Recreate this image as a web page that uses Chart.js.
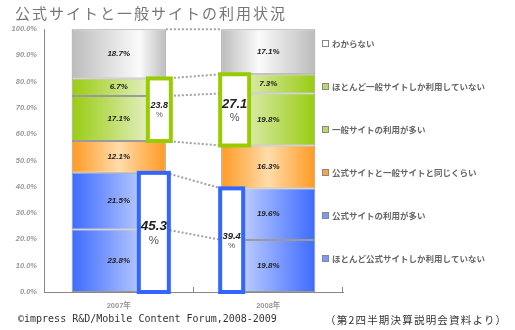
<!DOCTYPE html>
<html lang="ja">
<head>
<meta charset="utf-8">
<script src="https://cdn.jsdelivr.net/npm/chart.js@4.4.1/dist/chart.umd.min.js"></script>
<style>
  html, body { margin: 0; padding: 0; background: #fff; }
  #wrap { position: relative; width: 515px; height: 330px; overflow: hidden; }
  #chart { position: absolute; left: 0; top: 0; }
  .title { position: absolute; left: 15px; top: 2px; font: 15px "Noto Sans CJK JP"; letter-spacing: 2px; color: #777; white-space: nowrap; }
  .credit { position: absolute; left: 18px; top: 313px; font: 10px "DejaVu Sans Mono"; color: #333; white-space: nowrap; }
  .source { position: absolute; left: 325px; top: 312px; font: 10.5px "Noto Sans CJK JP"; letter-spacing: 1.2px; color: #333; white-space: nowrap; }
</style>
</head>
<body>
<div id="wrap">
  <canvas id="chart" width="515" height="330"></canvas>
  <div class="title">公式サイトと一般サイトの利用状況</div>
  <div class="credit">©impress R&amp;D/Mobile Content Forum,2008-2009</div>
  <div class="source">（第2四半期決算説明会資料より）</div>
</div>
<script>
// data
const years = ['2007年', '2008年'];
const seriesNames = [
    'ほとんど公式サイトしか利用していない',
    '公式サイトの利用が多い',
    '公式サイトと一般サイトと同じくらい',
    '一般サイトの利用が多い',
    'ほとんど一般サイトしか利用していない',
    'わからない'
];
const officialOnly = [23.8, 19.8];
const officialMore = [21.5, 19.6];
const sameAmount = [12.1, 16.3];
const generalMore = [17.1, 19.8];
const generalOnly = [6.7, 7.3];
const unknown = [18.7, 17.1];
const yMax = 100;
const yStep = 10;

const BAR_PCT = 0.63;
const LABEL_FONT = '"Liberation Sans", "Noto Sans CJK JP", sans-serif';
Chart.defaults.font.family = LABEL_FONT;

// gradient fill across each bar, direction depends on the year
const barFill = (dark, light, kind) => (ctx) => {
    const chart = ctx.chart;
    const x = chart.scales.x;
    if (!chart.chartArea || !x || ctx.dataIndex === undefined) return dark;
    const cx = x.getPixelForTick(ctx.dataIndex);
    const half = x.width / years.length * BAR_PCT / 2;
    const g = chart.ctx.createLinearGradient(cx - half, 0, cx + half, 0);
    const first = ctx.dataIndex === 0;
    if (kind === 'mid') {
        g.addColorStop(0, dark); g.addColorStop(0.5, light); g.addColorStop(1, dark);
    } else if (kind === 'gray') {
        const p = first ? 0.72 : 0.4;
        g.addColorStop(0, dark); g.addColorStop(p, light); g.addColorStop(1, dark);
    } else if (first) {
        g.addColorStop(0, dark); g.addColorStop(0.85, light); g.addColorStop(1, light);
    } else {
        g.addColorStop(0, light); g.addColorStop(0.15, light); g.addColorStop(1, dark);
    }
    return g;
};

const palette = [
    { dark: '#3d6bff', light: '#c9d6ff', kind: 'ramp', swatch: '#7c97ff' },
    { dark: '#3d6bff', light: '#c9d6ff', kind: 'ramp', swatch: '#7c97ff' },
    { dark: '#ff9a22', light: '#ffdcaa', kind: 'mid', swatch: '#ffa445' },
    { dark: '#99cc11', light: '#e6f0c4', kind: 'ramp', swatch: '#b8d86a' },
    { dark: '#99cc11', light: '#e6f0c4', kind: 'ramp', swatch: '#b8d86a' },
    { dark: '#bcbcbc', light: '#fbfbfb', kind: 'gray', swatch: '#ffffff' }
];
const seriesValues = [officialOnly, officialMore, sameAmount, generalMore, generalOnly, unknown];

const datasets = seriesValues.map((vals, i) => ({
    label: seriesNames[i],
    data: vals,
    backgroundColor: barFill(palette[i].dark, palette[i].light, palette[i].kind),
    borderColor: '#9a9a9a',
    borderWidth: 1,
    borderSkipped: false,
    barPercentage: BAR_PCT,
    categoryPercentage: 1
}));

// callout boxes: summed groups next to the bars
const callouts = [
    { sets: [3, 4], cat: 0, edge: 'right', from: -20, to: 7, color: '#99cc00', size: 9 },
    { sets: [0, 1], cat: 0, edge: 'right', from: -29, to: 5, color: '#3366ff', size: 13.5 },
    { sets: [3, 4], cat: 1, edge: 'left', from: -3, to: 30, color: '#99cc00', size: 13 },
    { sets: [0, 1], cat: 1, edge: 'left', from: -3, to: 24, color: '#3366ff', size: 9.5 }
];

const overlay = {
    id: 'overlay',
    afterDatasetsDraw(chart) {
        const { ctx, scales: { x, y }, chartArea } = chart;
        const sets = chart.data.datasets;
        const metas = sets.map((d, i) => chart.getDatasetMeta(i));

        // x axis tick marks between categories (pointing up)
        ctx.save();
        ctx.strokeStyle = '#888';
        ctx.lineWidth = 1;
        const catW = chartArea.width / years.length;
        for (let i = 1; i <= years.length; i++) {
            const px = Math.round(chartArea.left + i * catW) - 0.5;
            ctx.beginPath();
            ctx.moveTo(px, chartArea.bottom);
            ctx.lineTo(px, chartArea.bottom - 5);
            ctx.stroke();
        }
        ctx.restore();

        // dotted series lines
        ctx.save();
        ctx.strokeStyle = '#a2a2a2';
        ctx.lineWidth = 2;
        ctx.setLineDash([2, 2]);
        for (let c = 0; c < years.length - 1; c++) {
            const a = metas[0].data[c], b = metas[0].data[c + 1];
            const x0 = a.x + a.width / 2, x1 = b.x - b.width / 2;
            let s0 = 0, s1 = 0;
            sets.forEach(ds => {
                s0 += ds.data[c];
                s1 += ds.data[c + 1];
                ctx.beginPath();
                ctx.moveTo(x0, y.getPixelForValue(s0));
                ctx.lineTo(x1, y.getPixelForValue(s1));
                ctx.stroke();
            });
        }
        ctx.restore();

        // value labels inside segments
        ctx.save();
        ctx.font = 'italic bold 8px ' + LABEL_FONT;
        ctx.fillStyle = '#222';
        ctx.textAlign = 'center';
        ctx.textBaseline = 'middle';
        metas.forEach((meta, i) => {
            meta.data.forEach((bar, c) => {
                ctx.fillText(sets[i].data[c].toFixed(1) + '%', bar.x, (bar.y + bar.base) / 2);
            });
        });
        ctx.restore();

        // callout boxes
        ctx.save();
        callouts.forEach(cb => {
            const bar = metas[0].data[cb.cat];
            const edgeX = cb.edge === 'right' ? bar.x + bar.width / 2 : bar.x - bar.width / 2;
            let below = 0;
            for (let i = 0; i < cb.sets[0]; i++) below += sets[i].data[cb.cat];
            let total = 0;
            cb.sets.forEach(i => { total += sets[i].data[cb.cat]; });
            const top = y.getPixelForValue(below + total);
            const bottom = y.getPixelForValue(below);
            const left = edgeX + cb.from + 2, right = edgeX + cb.to - 2;
            ctx.fillStyle = '#fff';
            ctx.fillRect(left, top, right - left, bottom - top);
            ctx.strokeStyle = cb.color;
            ctx.lineWidth = 4;
            ctx.strokeRect(left, top, right - left, bottom - top);
            const cx = (left + right) / 2, cy = (top + bottom) / 2;
            ctx.textAlign = 'center';
            ctx.textBaseline = 'middle';
            ctx.fillStyle = '#222';
            ctx.font = 'italic bold ' + cb.size + 'px ' + LABEL_FONT;
            ctx.fillText(total.toFixed(1), cx, cy - cb.size * 0.45);
            ctx.fillStyle = '#555';
            ctx.font = (cb.size * 0.85) + 'px ' + LABEL_FONT;
            ctx.fillText('%', cx, cy + cb.size * 0.6);
        });
        ctx.restore();
    },
    afterDraw(chart) {
        // legend drawn over the right part of the plot, in reverse order
        const { ctx, chartArea } = chart;
        const sets = chart.data.datasets;
        ctx.save();
        ctx.font = 'bold 8.5px "Noto Sans CJK JP", sans-serif';
        ctx.textBaseline = 'middle';
        ctx.textAlign = 'left';
        for (let k = 0; k < sets.length; k++) {
            const i = sets.length - 1 - k;
            const cy = chartArea.top + 15 + k * 43;
            ctx.fillStyle = palette[i].swatch;
            ctx.fillRect(323, cy - 3, 5, 5);
            ctx.strokeStyle = '#888';
            ctx.lineWidth = 1;
            ctx.strokeRect(322.5, cy - 3.5, 6, 6);
            ctx.fillStyle = '#666';
            ctx.fillText(sets[i].label, 332, cy);
        }
        ctx.restore();
    }
};

new Chart(document.getElementById('chart'), {
    type: 'bar',
    data: { labels: years, datasets },
    options: {
        responsive: false,
        animation: false,
        layout: { padding: { top: 29, right: 172, bottom: 0, left: 0 } },
        plugins: { legend: { display: false }, tooltip: { enabled: false } },
        scales: {
            x: {
                stacked: true,
                grid: { display: false, drawTicks: false },
                border: { color: '#888' },
                ticks: { color: '#999', padding: 9, font: { size: 7.5, weight: 'bold' } },
                afterFit(s) { s.height = 38; }
            },
            y: {
                stacked: true,
                min: 0,
                max: yMax,
                grid: { display: false, drawTicks: false },
                border: { color: '#888' },
                ticks: {
                    stepSize: yStep,
                    padding: 7,
                    color: '#999',
                    font: { size: 7.5, weight: 'bold', style: 'italic' },
                    callback: v => v.toFixed(1) + '%'
                },
                afterFit(s) { s.width = 44; }
            }
        }
    },
    plugins: [overlay]
});
</script>
</body>
</html>
